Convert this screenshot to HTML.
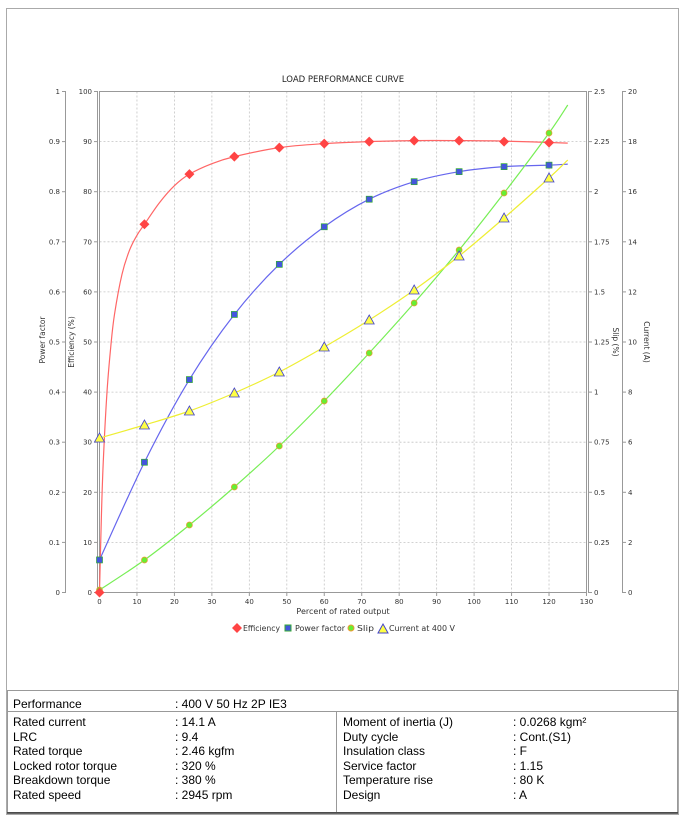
<!DOCTYPE html>
<html><head><meta charset="utf-8"><style>
body{margin:0;background:#fff;width:686px;height:816px;overflow:hidden;font-family:"Liberation Sans",sans-serif}
.t{position:absolute;font-size:12px;color:#000;white-space:nowrap}
</style></head><body>
<svg width="686" height="816" style="position:absolute;left:0;top:0" font-family="DejaVu Sans, sans-serif">
<rect x="6.5" y="8.5" width="672" height="806" fill="none" stroke="#aaa"/>
<text x="343" y="82" font-size="8.5" text-anchor="middle" fill="#222">LOAD PERFORMANCE CURVE</text>
<g id="grid" stroke="#c4c4c4" stroke-dasharray="2,2" stroke-width="0.8"></g>
<rect x="99.5" y="91.5" width="487" height="501" fill="none" stroke="#999"/>
<g id="ax" font-size="7" fill="#333"></g>
<g id="ser"></g>
<text x="343" y="614" font-size="8" text-anchor="middle" fill="#333">Percent of rated output</text>
<text transform="translate(45,340) rotate(-90)" font-size="7.5" text-anchor="middle" fill="#333">Power factor</text>
<text transform="translate(74,342) rotate(-90)" font-size="7.5" text-anchor="middle" fill="#333">Efficiency (%)</text>
<text transform="translate(613,342) rotate(90)" font-size="7.5" text-anchor="middle" fill="#333">Slip (%)</text>
<text transform="translate(644,342) rotate(90)" font-size="7.5" text-anchor="middle" fill="#333">Current (A)</text>
<g font-size="7.5" fill="#333">
<path d="M232,628 l5,-5 l5,5 l-5,5z" fill="#f44"/><text x="243" y="631" textLength="37" lengthAdjust="spacingAndGlyphs">Efficiency</text>
<rect x="285" y="625" width="6" height="6" fill="#45d" stroke="#3a3"/><text x="295" y="631" textLength="50" lengthAdjust="spacingAndGlyphs">Power factor</text>
<circle cx="351" cy="628" r="3" fill="#6e3" stroke="#e93"/><text x="357" y="631" textLength="17" lengthAdjust="spacingAndGlyphs">Slip</text>
<path d="M378,633 l5,-9 l5,9z" fill="#ff4" stroke="#44c"/><text x="389" y="631" textLength="66" lengthAdjust="spacingAndGlyphs">Current at 400 V</text>
</g>
<g stroke="#999" fill="none">
<rect x="7.5" y="690.5" width="670" height="122"/>
<line x1="7" y1="711.5" x2="678" y2="711.5"/>
<line x1="336.5" y1="711" x2="336.5" y2="812"/>
</g>
<line x1="7" y1="813" x2="678" y2="813" stroke="#333" stroke-width="1.5"/>
</svg>
<div class="t" style="left:13px;top:697px">Performance</div>
<div class="t" style="left:175px;top:697px">: 400 V 50 Hz 2P IE3</div>
<div class="t" style="left:13px;top:715px;line-height:14.6px">Rated current<br>LRC<br>Rated torque<br>Locked rotor torque<br>Breakdown torque<br>Rated speed</div>
<div class="t" style="left:175px;top:715px;line-height:14.6px">: 14.1 A<br>: 9.4<br>: 2.46 kgfm<br>: 320 %<br>: 380 %<br>: 2945 rpm</div>
<div class="t" style="left:343px;top:715px;line-height:14.6px">Moment of inertia (J)<br>Duty cycle<br>Insulation class<br>Service factor<br>Temperature rise<br>Design</div>
<div class="t" style="left:513px;top:715px;line-height:14.6px">: 0.0268 kgm²<br>: Cont.(S1)<br>: F<br>: 1.15<br>: 80 K<br>: A</div>
<script>
const NS="http://www.w3.org/2000/svg";
function el(p,t,a,txt){const e=document.createElementNS(NS,t);for(const k in a)e.setAttribute(k,a[k]);if(txt!==undefined)e.textContent=txt;p.appendChild(e);return e;}
const X=v=>99.5+v*3.746, Y0=592.5, H=501;
const g=document.getElementById('grid'),ax=document.getElementById('ax'),s=document.getElementById('ser');
for(let i=1;i<13;i++)el(g,'line',{x1:X(i*10),y1:91.5,x2:X(i*10),y2:592.5});
for(let i=1;i<10;i++){const y=Y0-i*H/10;el(g,'line',{x1:99.5,y1:y,x2:586.5,y2:y});}
[[65.5,0],[97.5,0],[588.5,1],[622.5,1]].forEach(a=>{el(ax,'line',{x1:a[0],y1:91,x2:a[0],y2:593,stroke:'#999'});});
for(let i=0;i<=10;i++){const y=Y0-i*H/10;
 el(ax,'line',{x1:62,y1:y,x2:65.5,y2:y,stroke:'#999'});
 el(ax,'text',{x:60,y:y+2.5,'text-anchor':'end'},i==0?'0':i==10?'1':(i/10).toFixed(1));
 el(ax,'line',{x1:94,y1:y,x2:97.5,y2:y,stroke:'#999'});
 el(ax,'text',{x:92,y:y+2.5,'text-anchor':'end'},String(i*10));
 el(ax,'line',{x1:588.5,y1:y,x2:592,y2:y,stroke:'#999'});
 const sv=i*0.25;el(ax,'text',{x:594,y:y+2.5},String(+sv.toFixed(2)));
 el(ax,'line',{x1:622.5,y1:y,x2:626,y2:y,stroke:'#999'});
 el(ax,'text',{x:628,y:y+2.5},String(i*2));
}
for(let i=0;i<=13;i++){el(ax,'line',{x1:X(i*10),y1:593,x2:X(i*10),y2:596,stroke:'#999'});el(ax,'text',{x:X(i*10),y:604,'text-anchor':'middle'},String(i*10));}
function path(pts,color){let d='M'+pts[0][0]+','+pts[0][1];
 for(let i=0;i<pts.length-1;i++){const p0=pts[i-1]||pts[i],p1=pts[i],p2=pts[i+1],p3=pts[i+2]||p2;
  d+=` C${p1[0]+(p2[0]-p0[0])/6},${p1[1]+(p2[1]-p0[1])/6} ${p2[0]-(p3[0]-p1[0])/6},${p2[1]-(p3[1]-p1[1])/6} ${p2[0]},${p2[1]}`;}
 el(s,'path',{d:d,fill:'none',stroke:color,'stroke-width':1.2});}
const xs=[0,12,24,36,48,60,72,84,96,108,120];
const eff=[0,73.5,83.5,87,88.8,89.6,90,90.2,90.2,90,89.8];
const effc=[[0,0],[0.5,15],[1,26],[2,40],[3,49],[4,55.5],[6,63.5],[8,68.3],[10,71.3],[12,73.5],[16,77.8],[20,81.2],[24,83.5],[30,85.6],[36,87],[48,88.8],[60,89.6],[72,90],[84,90.2],[96,90.2],[108,90.1],[125,89.7]];
path(effc.map(p=>[X(p[0]),Y0-p[1]*H/100]),'#f66');
const pf=[0.065,0.26,0.425,0.555,0.655,0.73,0.785,0.82,0.84,0.85,0.853];
path(xs.concat([125]).map((x,i)=>[X(x),Y0-(i<11?pf[i]:0.855)*H]),'#66e');
const sl=[590,560,525,487,446,401,353,303,250,193,133];
path(xs.concat([125]).map((x,i)=>[X(x),i<11?sl[i]:105]),'#7e5');
const cu=[438,425,411,393,372,347,320,290,256,218,178];
path(xs.concat([125]).map((x,i)=>[X(x),i<11?cu[i]:160]),'#ee3');
xs.forEach((x,i)=>{const px=X(x);
 el(s,'circle',{cx:px,cy:sl[i],r:3,fill:'#6e3',stroke:'#e93','stroke-width':0.7});
 el(s,'rect',{x:px-3,y:Y0-pf[i]*H-3,width:6,height:6,fill:'#45d',stroke:'#3a3','stroke-width':0.7});
 const ey=Y0-eff[i]*H/100;el(s,'path',{d:`M${px-5},${ey} l5,-5 l5,5 l-5,5z`,fill:'#f44'});
 el(s,'path',{d:`M${px-5},${cu[i]+4} l5,-9 l5,9z`,fill:'#ff4',stroke:'#44c','stroke-width':0.8});
});
</script>
</body></html>
